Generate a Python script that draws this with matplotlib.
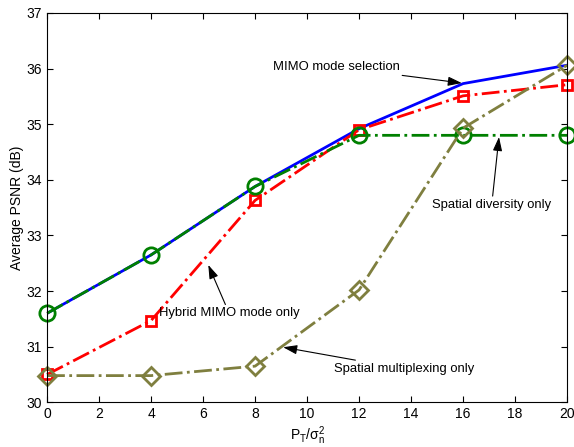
import matplotlib.pyplot as plt

plt.rcParams['font.family'] = ['Liberation Sans', 'DejaVu Sans']

snr = [0, 4, 8, 12, 16, 20]
mode_sel = [31.6, 32.65, 33.88, 34.92, 35.73, 36.06]
hybrid = [30.5, 31.47, 33.63, 34.9, 35.51, 35.71]
diversity = [31.6, 32.65, 33.88, 34.8, 34.8, 34.8]
multiplex = [30.48, 30.48, 30.65, 32.02, 34.93, 36.06]

fig, ax = plt.subplots(figsize=(5.74, 4.47), dpi=100)
fig.subplots_adjust(left=0.082, right=0.988, top=0.971, bottom=0.1)

ax.plot(snr, mode_sel, '-', color='#0000ff', lw=2)
ax.plot(snr, hybrid, '-.', color='#ff0000', lw=2, marker='s', ms=7.5,
        mfc='none', mew=2, clip_on=False)
ax.plot(snr, diversity, '-.', color='#008000', lw=2, marker='o', ms=11,
        mfc='none', mew=2, clip_on=False)
ax.plot(snr, multiplex, '-.', color='#7f7f3f', lw=2, marker='D', ms=9,
        mfc='none', mew=2, clip_on=False)

arrow = dict(arrowstyle='-|>,head_length=0.6,head_width=0.2', color='black',
             lw=0.8, mutation_scale=14, shrinkA=0, shrinkB=0)
fs = 9.4
ax.annotate('MIMO mode selection', xy=(15.95, 35.74), xytext=(13.55, 36.03),
            ha='right', va='center', fontsize=fs, arrowprops=arrow)
ax.annotate('Spatial diversity only', xy=(17.38, 34.77), xytext=(17.1, 33.55),
            ha='center', va='center', fontsize=fs, arrowprops=arrow)
ax.annotate('Hybrid MIMO mode only', xy=(6.2, 32.47), xytext=(4.3, 31.6),
            ha='left', va='center', fontsize=fs, arrowprops=arrow)
ax.annotate('Spatial multiplexing only', xy=(9.08, 30.99), xytext=(11.05, 30.6),
            ha='left', va='center', fontsize=fs, arrowprops=arrow)

ax.set_xlim(0, 20)
ax.set_ylim(30, 37)
ax.set_xticks(range(0, 21, 2))
ax.set_yticks(range(30, 38))
ax.tick_params(direction='in', top=True, right=True, labelsize=10, length=4.5)
ax.set_xlabel(r'$\mathregular{P_T/\sigma_n^2}$', fontsize=10, labelpad=2)
ax.set_ylabel('Average PSNR (dB)', fontsize=10, labelpad=2)

fig.savefig('out.png')
